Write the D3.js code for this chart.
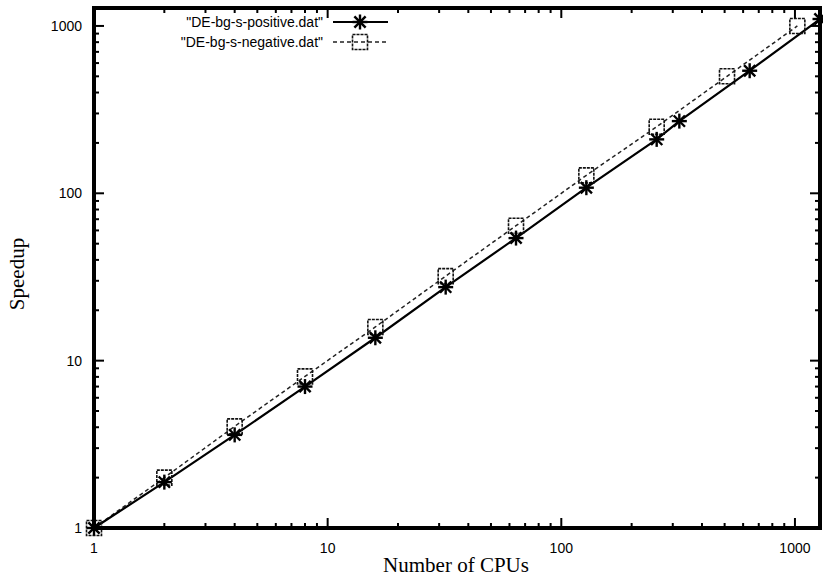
<!DOCTYPE html>
<html>
<head>
<meta charset="utf-8">
<script src="https://cdn.jsdelivr.net/npm/d3@7"></script>
<style>
  body { margin: 0; background: #fff; }
  svg { display: block; }
</style>
</head>
<body>
<svg id="chart" width="823" height="583"></svg>
<script>
// Data
const posCpus = [1, 2, 4, 8, 16, 32, 64, 128, 256, 320, 640, 1280];
const posSpeedup = [1, 1.88, 3.6, 7.0, 13.7, 27.5, 54, 108, 210, 270, 540, 1100];
const negCpus = [1, 2, 4, 8, 16, 32, 64, 128, 256, 512, 1024];
const negSpeedup = [1, 2, 4.05, 8.05, 15.9, 32, 64, 128, 250, 500, 1000];
const majorTicks = [1, 10, 100, 1000];
const seriesNames = ['"DE-bg-s-positive.dat"', '"DE-bg-s-negative.dat"'];

const svg = d3.select('#chart');
const margin = { left: 94, right: 3, top: 8, bottom: 55 };
const width = 823, height = 583;

const x = d3.scaleLog().domain([1, 1280]).range([margin.left, width - margin.right]);
const y = d3.scaleLog().domain([1, 1280]).range([height - margin.bottom, margin.top]);

// all ticks: majors + minors 2..9 per decade
const allTicks = [];
for (let d = 1; d <= 1000; d *= 10) {
    for (let k = 1; k <= 9; k++) {
        if (d * k <= 1280) allTicks.push(d * k);
    }
}
const isMajor = v => majorTicks.includes(v);

const tickLen = v => isMajor(v) ? 10 : 5;
const ticksG = svg.append('g').attr('stroke', '#000').attr('stroke-width', 2);
allTicks.forEach(v => {
    // bottom and top
    ticksG.append('line').attr('x1', x(v)).attr('x2', x(v))
        .attr('y1', y.range()[0]).attr('y2', y.range()[0] - tickLen(v));
    ticksG.append('line').attr('x1', x(v)).attr('x2', x(v))
        .attr('y1', y.range()[1]).attr('y2', y.range()[1] + tickLen(v));
    // left and right
    ticksG.append('line').attr('y1', y(v)).attr('y2', y(v))
        .attr('x1', x.range()[0]).attr('x2', x.range()[0] + tickLen(v));
    ticksG.append('line').attr('y1', y(v)).attr('y2', y(v))
        .attr('x1', x.range()[1]).attr('x2', x.range()[1] - tickLen(v));
});

// tick labels
svg.append('g').selectAll('text.xl')
    .data(majorTicks).enter().append('text')
    .attr('x', d => x(d)).attr('y', height - margin.bottom + 25)
    .attr('text-anchor', 'middle')
    .attr('font-family', 'Liberation Sans, Arial, sans-serif').attr('font-size', 14)
    .text(d => d);
svg.append('g').selectAll('text.yl')
    .data(majorTicks).enter().append('text')
    .attr('x', margin.left - 12).attr('y', d => y(d) + 5)
    .attr('text-anchor', 'end')
    .attr('font-family', 'Liberation Sans, Arial, sans-serif').attr('font-size', 14)
    .text(d => d);

// axis titles
svg.append('text')
    .attr('x', 456).attr('y', 572)
    .attr('text-anchor', 'middle')
    .attr('font-family', 'Liberation Serif, Times New Roman, serif').attr('font-size', 21)
    .text('Number of CPUs');
svg.append('text')
    .attr('transform', 'translate(24,274) rotate(-90)')
    .attr('text-anchor', 'middle')
    .attr('font-family', 'Liberation Serif, Times New Roman, serif').attr('font-size', 21)
    .text('Speedup');

// lines
const posData = posCpus.map((c, i) => [c, posSpeedup[i]]);
const negData = negCpus.map((c, i) => [c, negSpeedup[i]]);
const line = d3.line().x(d => x(d[0])).y(d => y(d[1]));

svg.append('path').datum(negData)
    .attr('d', line).attr('fill', 'none')
    .attr('stroke', '#222').attr('stroke-width', 1.5)
    .attr('stroke-dasharray', '4,3');
svg.append('path').datum(posData)
    .attr('d', line).attr('fill', 'none')
    .attr('stroke', '#000').attr('stroke-width', 2.2);

function drawStar(g, cx, cy, r) {
    const s = g.append('g').attr('stroke', '#000').attr('stroke-width', 2.4);
    s.append('line').attr('x1', cx - r).attr('x2', cx + r).attr('y1', cy).attr('y2', cy);
    s.append('line').attr('x1', cx).attr('x2', cx).attr('y1', cy - r).attr('y2', cy + r);
    const q = r * 0.75;
    s.append('line').attr('x1', cx - q).attr('x2', cx + q).attr('y1', cy - q).attr('y2', cy + q);
    s.append('line').attr('x1', cx - q).attr('x2', cx + q).attr('y1', cy + q).attr('y2', cy - q);
}
function drawSquare(g, cx, cy, r) {
    g.append('rect').attr('x', cx - r).attr('y', cy - r)
        .attr('width', 2 * r).attr('height', 2 * r)
        .attr('fill', 'none').attr('stroke', '#111').attr('stroke-width', 1.6)
        .attr('stroke-dasharray', '3,1');
}

const marks = svg.append('g');
negData.forEach(d => drawSquare(marks, x(d[0]), y(d[1]), 7.5));
posData.forEach(d => drawStar(marks, x(d[0]), y(d[1]), 7.5));

// frame
svg.append('rect')
    .attr('x', margin.left).attr('y', margin.top)
    .attr('width', width - margin.left - margin.right)
    .attr('height', height - margin.top - margin.bottom)
    .attr('fill', 'none').attr('stroke', '#000').attr('stroke-width', 4);

// legend
const legend = svg.append('g');
const legRows = [22, 42];
seriesNames.forEach((name, i) => {
    legend.append('text')
        .attr('x', 323).attr('y', legRows[i] + 5)
        .attr('text-anchor', 'end')
        .attr('font-family', 'Liberation Sans, Arial, sans-serif').attr('font-size', 14)
        .text(name);
});
legend.append('line').attr('x1', 333).attr('x2', 388)
    .attr('y1', legRows[0]).attr('y2', legRows[0])
    .attr('stroke', '#000').attr('stroke-width', 2.2);
drawStar(legend, 360, legRows[0], 7.5);
legend.append('line').attr('x1', 333).attr('x2', 388)
    .attr('y1', legRows[1]).attr('y2', legRows[1])
    .attr('stroke', '#222').attr('stroke-width', 1.5).attr('stroke-dasharray', '4,3');
drawSquare(legend, 360, legRows[1], 7.5);
</script>
</body>
</html>
